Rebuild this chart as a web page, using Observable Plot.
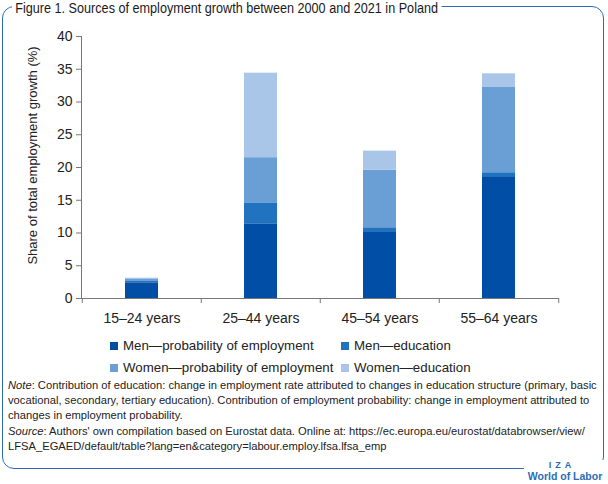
<!DOCTYPE html>
<html>
<head>
<meta charset="utf-8">
<script src="https://cdn.jsdelivr.net/npm/d3@7"></script>
<script src="https://cdn.jsdelivr.net/npm/@observablehq/plot@0.6"></script>
<style>
  body { margin: 0; background: #fff; }
  #fig { position: relative; width: 608px; height: 484px; overflow: hidden;
         font-family: "Liberation Sans", Arial, sans-serif; color: #222; background: #fff; }
  #border { position: absolute; left: 2px; top: 6px; width: 602px; height: 463px;
            border: 1.6px solid #2d6cb5; border-radius: 12px; box-sizing: border-box; }
  #title { position: absolute; left: 12px; top: 0px; background: #fff; padding: 0 4px 0 4px;
           font-family: "Liberation Sans", Arial, sans-serif;
           font-size: 15.5px; line-height: 15px; color: #1a1a1a; white-space: nowrap;
           transform: scaleX(0.815); transform-origin: 0 0; }
  #chart { position: absolute; left: 0; top: 0; }
  #legend { position: absolute; left: 110px; top: 337px; display: grid;
            grid-template-columns: 231px auto; row-gap: 4px; font-size: 13.3px; line-height: 18px; }
  #legend .item { display: flex; align-items: center; white-space: nowrap; }
  #legend .sw { width: 8px; height: 8px; margin-right: 5px; display: inline-block; }
  .notes { position: absolute; left: 8px; font-size: 11.2px; line-height: 15px; color: #222; white-space: nowrap; }
  #note { top: 378px; }
  #source { top: 424px; }
  #logo { position: absolute; left: 524px; top: 460px; width: 82px; background: #fff;
          color: #2d6cb5; font-weight: bold; text-align: center; white-space: nowrap; }
  #logo .iza { font-size: 9px; letter-spacing: 4px; line-height: 10px; margin-left: -6px; }
  #logo .wol { font-size: 10.5px; line-height: 12px; }
</style>
</head>
<body>
<div id="fig">
  <div id="border"></div>
  <div id="chart"></div>
  <div id="title">Figure 1. Sources of employment growth between 2000 and 2021 in Poland</div>
  <div id="legend"></div>
  <div id="note" class="notes"><i>Note</i>: Contribution of education: change in employment rate attributed to changes in education structure (primary, basic<br>vocational, secondary, tertiary education). Contribution of employment probability: change in employment attributed to<br>changes in employment probability.</div>
  <div id="source" class="notes"><i>Source</i>: Authors' own compilation based on Eurostat data. Online at: https://ec.europa.eu/eurostat/databrowser/view/<br>LFSA_EGAED/default/table?lang=en&amp;category=labour.employ.lfsa.lfsa_emp</div>
  <div id="logo"><div class="iza">IZA</div><div class="wol">World of Labor</div></div>
</div>
<script>
const categories = ["15–24 years", "25–44 years", "45–54 years", "55–64 years"];
const series = ["Men—probability of employment", "Men—education", "Women—probability of employment", "Women—education"];
const menProb = [2.4, 11.4, 10.2, 18.6];
const menEdu = [0.2, 3.2, 0.6, 0.6];
const womenProb = [0.3, 6.9, 8.8, 13.1];
const womenEdu = [0.2, 12.9, 2.9, 2.0];
const colors = ["#004ea6", "#2273bf", "#6a9fd5", "#a9c5e7"];
const yTicks = [0, 5, 10, 15, 20, 25, 30, 35, 40];
const yLabel = "Share of total employment growth (%)";

const valuesBySeries = [menProb, menEdu, womenProb, womenEdu];
const data = [];
categories.forEach((c, i) => {
  series.forEach((s, j) => data.push({category: c, series: s, value: valuesBySeries[j][i]}));
});

const W = 608, H = 340, ML = 81, MR = 49, MT = 36, MB = 42;
const bw = (W - ML - MR) / categories.length;

const chart = Plot.plot({
  width: W, height: H,
  marginLeft: ML, marginRight: MR, marginTop: MT, marginBottom: MB,
  style: {fontFamily: "'Liberation Sans', Arial, sans-serif", fontSize: "14px", color: "#222", background: "transparent"},
  x: {domain: categories, padding: 0, label: null},
  y: {domain: [0, 40], label: null},
  color: {domain: series, range: colors},
  marks: [
    Plot.barY(data, {x: "category", y: "value", fill: "series", order: series, insetLeft: 43, insetRight: 43}),
    Plot.frame({anchor: "left", stroke: "#777"}),
    Plot.ruleY([0], {stroke: "#777"}),
    Plot.axisY({ticks: yTicks, tickSize: 5, tickPadding: 4, stroke: "#777", fontSize: 14, label: null}),
    Plot.axisX({tickSize: 0, tickPadding: 15, fontSize: 14, label: null}),
    Plot.axisX({tickSize: 5, stroke: "#777", tickFormat: () => "", dx: -bw / 2, label: null}),
    Plot.axisX({ticks: [categories[categories.length - 1]], tickSize: 5, stroke: "#777", tickFormat: () => "", dx: bw / 2, label: null}),
    Plot.text([yLabel], {frameAnchor: "left", textAnchor: "middle", rotate: -90, dx: -49, dy: -12, fontSize: 13, fill: "#222"})
  ]
});
document.getElementById("chart").appendChild(chart);

const legend = document.getElementById("legend");
series.forEach((s, j) => {
  const item = document.createElement("div");
  item.className = "item";
  const sw = document.createElement("span");
  sw.className = "sw";
  sw.style.background = colors[j];
  item.appendChild(sw);
  item.appendChild(document.createTextNode(s));
  legend.appendChild(item);
});
</script>
</body>
</html>
